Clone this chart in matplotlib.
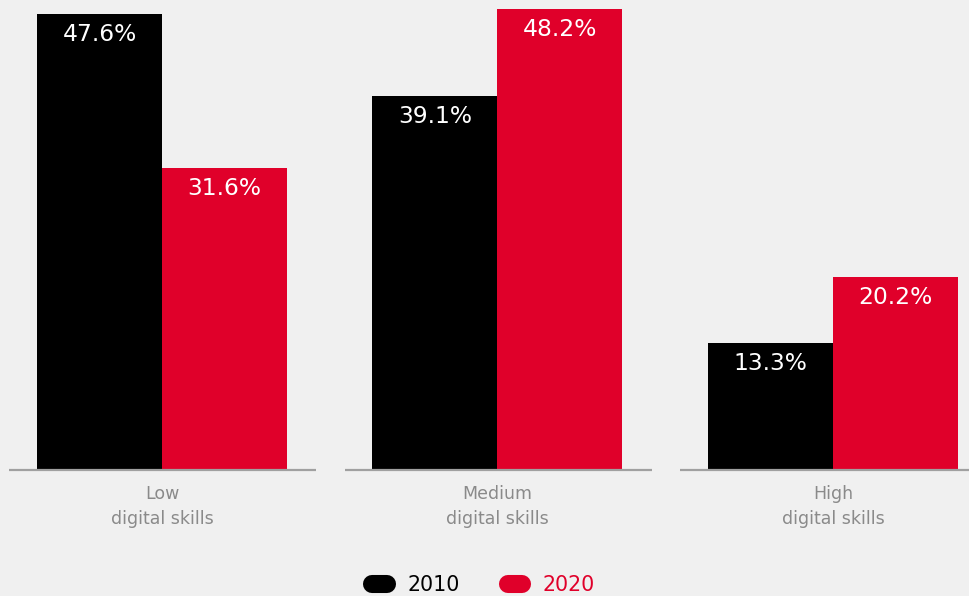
import numpy as np
import matplotlib.pyplot as plt
from matplotlib.lines import Line2D

plt.rcParams['font.family'] = ['DejaVu Sans']

# Data
categories = ['Low\ndigital skills', 'Medium\ndigital skills', 'High\ndigital skills']
years = ['2010', '2020']
values_2010 = [47.6, 39.1, 13.3]
values_2020 = [31.6, 48.2, 20.2]

black = '#000000'
red = '#e0002a'
bg = '#f0f0f0'

fig = plt.figure(figsize=(9.7, 5.96), dpi=100, facecolor=bg)
ax = fig.add_axes([0, 126 / 596, 1, 470 / 596])
ax.set_facecolor(bg)

x = np.arange(len(categories))
w = 125 / 335.5

bars1 = ax.bar(x - w / 2, values_2010, w, color=black)
bars2 = ax.bar(x + w / 2, values_2020, w, color=red)

# value labels inside the top of each bar
for bars, vals in [(bars1, values_2010), (bars2, values_2020)]:
    for b, v in zip(bars, vals):
        ax.annotate(f'{v:.1f}%', (b.get_x() + b.get_width() / 2, v),
                    xytext=(0, -6.5), textcoords='offset points',
                    ha='center', va='top', color='white', fontsize=16.8)

# separate baseline per group
for xi in x:
    ax.hlines(0, xi - 0.455, xi + 0.46, color='#a0a0a0', lw=1.6, clip_on=False)

# category labels
for xi, c in zip(x, categories):
    ax.annotate(c, (xi, 0), xytext=(0, -11), textcoords='offset points',
                ha='center', va='top', color='#8a8a8a', fontsize=12.5,
                linespacing=1.45, annotation_clip=False)

ax.set_xlim(-162 / 335.5, (970 - 162) / 335.5)
ax.set_ylim(0, 470 / 9.57)
ax.axis('off')

# legend
handles = [Line2D([0], [0], color=black, lw=13, solid_capstyle='round'),
           Line2D([0], [0], color=red, lw=13, solid_capstyle='round')]
leg = fig.legend(handles, years, loc='center', bbox_to_anchor=(0.4985, 11 / 596),
                 ncol=2, frameon=False, fontsize=14.8, handlelength=0.7,
                 columnspacing=2.35, handletextpad=1.0)
leg.get_texts()[1].set_color(red)

fig.savefig('out.png', dpi=100, facecolor=bg)
